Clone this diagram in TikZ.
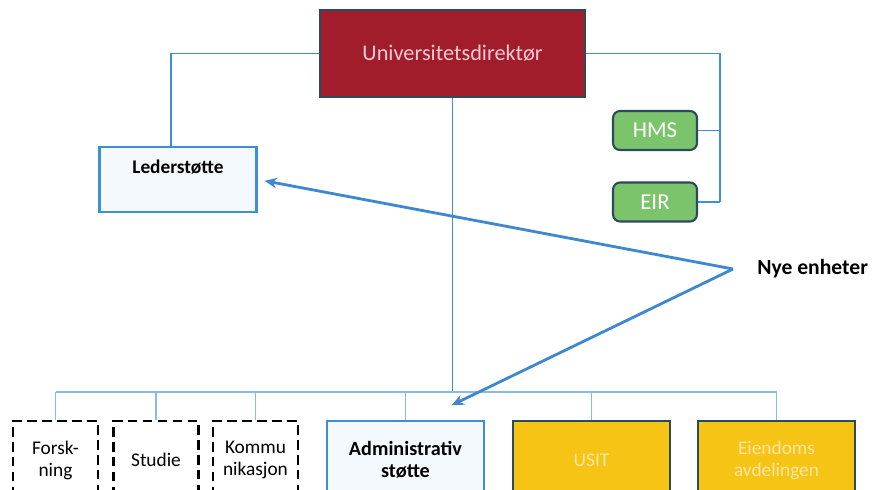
\documentclass[tikz,border=0pt]{standalone}
\usepackage{fontspec}
\setmainfont{Carlito}
\usetikzlibrary{arrows.meta}

\definecolor{dirrod}{HTML}{A21D2B}
\definecolor{dirtekst}{HTML}{F7C9D2}
\definecolor{linjeblaa}{HTML}{3D8FD9}
\definecolor{tynnblaa}{HTML}{86BCE6}
\definecolor{lysblaa}{HTML}{F3F9FD}
\definecolor{gronn}{HTML}{7CC46C}
\definecolor{morkkant}{HTML}{2C4B5A}
\definecolor{gul}{HTML}{F6C414}
\definecolor{gultekst}{HTML}{FBE7A6}
\definecolor{pilblaa}{HTML}{3F88D0}

\tikzset{
  dirboks/.style={draw=morkkant, line width=0.8pt, fill=dirrod, text=dirtekst,
    minimum width=5.3cm, minimum height=1.74cm, font=\fontsize{12.7}{15}\selectfont},
  blaaboks/.style={draw=linjeblaa, line width=1.4pt, fill=lysblaa,
    minimum width=3.14cm, minimum height=1.3cm, align=center,
    font=\fontsize{11.5}{12.5}\selectfont\bfseries},
  gronnboks/.style={draw=morkkant, line width=1.2pt, fill=gronn, text=white,
    rounded corners=4pt, minimum width=1.68cm, minimum height=0.78cm,
    font=\fontsize{13}{15}\selectfont},
  stipletboks/.style={draw=black, line width=1.3pt, dash pattern=on 5.5pt off 3pt,
    minimum width=1.7cm, minimum height=1.56cm, align=center,
    font=\fontsize{11}{12.5}\selectfont},
  gulboks/.style={draw=morkkant, line width=1pt, fill=gul, text=gultekst,
    minimum width=3.14cm, minimum height=1.56cm, align=center,
    font=\fontsize{11}{12.5}\selectfont},
  linje/.style={draw=linjeblaa, line width=0.9pt},
  tynn/.style={draw=tynnblaa, line width=0.6pt},
  pil/.style={draw=pilblaa, line width=1.6pt, ->, shorten >=1pt}
}

\begin{document}
\begin{tikzpicture}[x=0.02cm, y=-0.02cm, >={Stealth[length=7pt,width=6pt]}]
  \useasboundingbox (0,0) rectangle (872,490);
  \clip (0,0) rectangle (872,490);
  %Toppen
  \node[dirboks] (dir) at (452.5,53.5) {Universitetsdirektør};
  %Lederstøtte
  \node[blaaboks] (led) at (178,179.5) {};
  \node[font=\fontsize{11}{13}\selectfont\bfseries] (ledtekst) at (178,167) {Lederstøtte};
  %HMS og EIR
  \node[gronnboks] (hms) at (655,130.5) {HMS};
  \node[gronnboks] (eir) at (655,202) {EIR};
  %Enheter nederst
  \node[stipletboks] (forsk) at (55.5,460) {Forsk-\\ning};
  \node[stipletboks] (studie) at (156,460) {Studie};
  \node[stipletboks] (kommu) at (255.5,460) {Kommu\\nikasjon};
  \node[blaaboks, minimum height=1.56cm] (admin) at (405.5,460) {Administrativ\\støtte};
  \node[gulboks] (usit) at (591.5,460) {USIT};
  \node[gulboks] (eiend) at (776.5,460) {Eiendoms\\avdelingen};
  %Linjer fra direktør
  \coordinate (hoyre) at (720,202);
  \coordinate (buss) at (452.5,392);
  \draw[linje] (dir.west) -| ([xshift=-4pt]led.north);
  \draw[linje] (dir.east) -| (hoyre);
  \draw[linje] (hms.east) -- (hms.east -| hoyre);
  \draw[linje] (eir.east) -- (hoyre);
  \draw[linje] (dir.south) -- (buss);
  %Linja til enhetene
  \draw[tynn] (forsk.north |- buss) -- (eiend.north |- buss);
  \foreach \enhet in {forsk,studie,kommu,admin,usit,eiend}
    \draw[tynn] (\enhet.north |- buss) -- (\enhet.north);
  %Nye enheter
  \node[anchor=west, inner sep=0pt, font=\fontsize{12.3}{14}\selectfont\bfseries] (nye) at (757,269) {Nye enheter};
  \coordinate (gren) at (733,269);
  \coordinate (adminpil) at (450,406);
  \draw[pil, shorten >=4pt] (gren) -- (led.east);
  \draw[pil] (gren) -- (adminpil);
\end{tikzpicture}
\end{document}
